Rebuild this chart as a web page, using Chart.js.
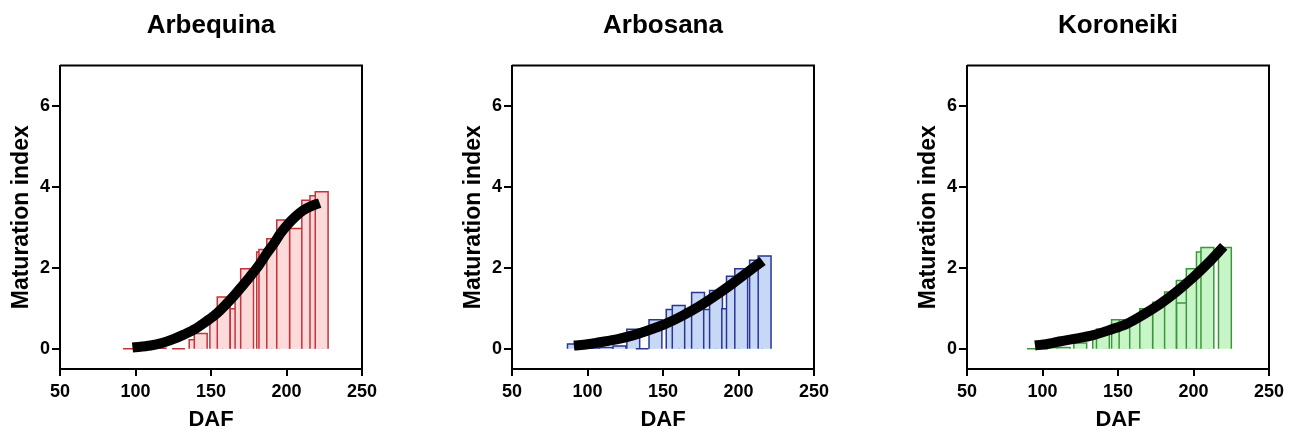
<!DOCTYPE html>
<html>
<head>
<meta charset="utf-8">
<script src="https://cdn.jsdelivr.net/npm/chart.js@4.4.1/dist/chart.umd.min.js"></script>
<style>
  html, body { margin: 0; padding: 0; background: #fff; overflow: hidden; }
  .panel { position: absolute; top: 0; width: 388px; height: 432px; }
</style>
</head>
<body>
<div class="panel" style="left:0px"><canvas id="arbequina"></canvas></div>
<div class="panel" style="left:452px"><canvas id="arbosana"></canvas></div>
<div class="panel" style="left:907px"><canvas id="koroneiki"></canvas></div>
<script>
// DAF of each sampling (bar centre) and maturation index, per cultivar
const arbequinaDays = [96, 104, 112, 116, 128.5, 139.8, 143.2, 153.5, 158.4, 167, 170.2, 173.9, 184.5, 186, 191.2, 197.8, 206.4, 214.4, 219.8, 223.3];
const arbequinaMI   = [0, 0.01, 0.02, 0.01, 0, 0.22, 0.38, 0.87, 1.28, 0.99, 1.49, 1.98, 2.39, 2.45, 2.72, 3.18, 2.97, 3.67, 3.78, 3.88];

const arbosanaDays = [91, 103.5, 112.3, 121.2, 130.3, 136.2, 145, 156.4, 160.4, 168.6, 173.2, 181.2, 185.1, 193.2, 196.3, 201.8, 211.6, 217.3];
const arbosanaMI   = [0.12, 0.02, 0.03, 0.07, 0.48, 0, 0.72, 0.97, 1.07, 0.98, 1.39, 0.97, 1.44, 0.99, 1.79, 1.98, 2.19, 2.29];

const koroneikiDays = [94, 99.5, 107.5, 114, 125, 137.5, 140, 150, 155, 162, 168.7, 177.3, 185.1, 192.9, 193.1, 199.5, 206.2, 209.2, 220.8];
const koroneikiMI   = [0, 0, 0.03, 0.03, 0.14, 0.4, 0.49, 0.72, 0.72, 0.74, 0.99, 1.15, 1.40, 1.69, 1.13, 1.98, 2.39, 2.5, 2.5];

// fitted curves
const arbequinaFitDays = [98, 110, 118, 125, 132, 140, 147, 154, 160, 165, 170, 176, 182, 187, 192, 196, 201, 206, 211, 216, 222];
const arbequinaFit     = [0.03, 0.08, 0.15, 0.24, 0.35, 0.50, 0.68, 0.88, 1.10, 1.30, 1.52, 1.79, 2.08, 2.36, 2.62, 2.85, 3.08, 3.27, 3.42, 3.52, 3.60];

const arbosanaFitDays = [91, 100, 108, 120, 130, 140, 152, 163, 174, 185, 196, 206, 216];
const arbosanaFit     = [0.08, 0.11, 0.16, 0.24, 0.33, 0.45, 0.62, 0.82, 1.05, 1.32, 1.61, 1.89, 2.17];

const koroneikiFitDays = [95, 105, 111, 122, 133, 145, 156, 167, 178, 189, 200, 210, 220];
const koroneikiFit     = [0.08, 0.13, 0.18, 0.25, 0.33, 0.47, 0.62, 0.85, 1.11, 1.42, 1.77, 2.13, 2.53];

const BAR_W = 8.5; // days
const FONT = "'Liberation Sans', Arial, sans-serif";

// box around the plot area (top and right sides)
const frame = {
  id: 'frame',
  afterDraw(chart) {
    const {ctx, chartArea: a} = chart;
    ctx.save();
    ctx.strokeStyle = '#000';
    ctx.lineWidth = 2;
    ctx.beginPath();
    ctx.moveTo(a.left, a.top);
    ctx.lineTo(a.right, a.top);
    ctx.lineTo(a.right, a.bottom);
    ctx.stroke();
    ctx.restore();
  }
};

function makeChart(id, title, days, vals, fitDays, fit, fillCol, lineCol) {
  // each bar is a small outlined shape x0 -> x1, filled down to zero
  const bars = days.map((d, i) => {
    const x0 = d - BAR_W / 2, x1 = d + BAR_W / 2, v = vals[i];
    return {
      data: [{x: x0, y: 0}, {x: x0, y: v}, {x: x1, y: v}, {x: x1, y: 0}],
      fill: 'origin', backgroundColor: fillCol, borderColor: lineCol,
      borderWidth: 1.5, pointRadius: 0, tension: 0, order: 1
    };
  }).reverse();

  const curve = {
    data: fitDays.map((d, i) => ({x: d, y: fit[i]})),
    borderColor: '#000', borderWidth: 10, pointRadius: 0,
    cubicInterpolationMode: 'monotone', fill: false, order: 0
  };

  const tickFont = {family: FONT, size: 18, weight: 'bold'};
  const grid = {display: true, drawOnChartArea: false, drawTicks: true, color: '#000', lineWidth: 2};

  new Chart(document.getElementById(id), {
    type: 'line',
    data: {datasets: [curve].concat(bars)},
    options: {
      responsive: true,
      maintainAspectRatio: false,
      animation: false,
      layout: {padding: {left: 0, right: 26, top: 0, bottom: 0}},
      plugins: {
        legend: {display: false},
        tooltip: {enabled: false},
        filler: {propagate: false},
        title: {
          display: true, text: title, fullSize: false, color: '#000',
          font: {family: FONT, size: 26, weight: 'bold', lineHeight: 1.2},
          padding: {top: 10, bottom: 24.3}
        }
      },
      scales: {
        x: {
          type: 'linear', min: 50, max: 250,
          ticks: {stepSize: 50, includeBounds: false, color: '#000', font: tickFont, padding: 5, maxRotation: 0},
          grid: Object.assign({tickLength: 7}, grid),
          border: {display: true, color: '#000', width: 2},
          title: {display: true, text: 'DAF', color: '#000',
                  font: {family: FONT, size: 22, weight: 'bold', lineHeight: 1}, padding: {top: 0, bottom: 1}},
          afterFit(s) { s.height = 63; }
        },
        y: {
          min: -0.5, max: 7,
          ticks: {stepSize: 2, includeBounds: false, color: '#000', font: tickFont, padding: 2},
          grid: Object.assign({tickLength: 8}, grid),
          border: {display: true, color: '#000', width: 2},
          title: {display: true, text: 'Maturation index', color: '#000',
                  font: {family: FONT, size: 23, weight: 'bold', lineHeight: 1}, padding: {top: 10.5, bottom: 0}},
          afterFit(s) { s.width = 60; }
        }
      }
    },
    plugins: [frame]
  });
}

makeChart('arbequina', 'Arbequina', arbequinaDays, arbequinaMI, arbequinaFitDays, arbequinaFit, '#FDDADA', '#C4333A');
makeChart('arbosana', 'Arbosana', arbosanaDays, arbosanaMI, arbosanaFitDays, arbosanaFit, '#C6D8F5', '#2A3596');
makeChart('koroneiki', 'Koroneiki', koroneikiDays, koroneikiMI, koroneikiFitDays, koroneikiFit, '#C8F5C8', '#3C963C');
</script>
</body>
</html>
